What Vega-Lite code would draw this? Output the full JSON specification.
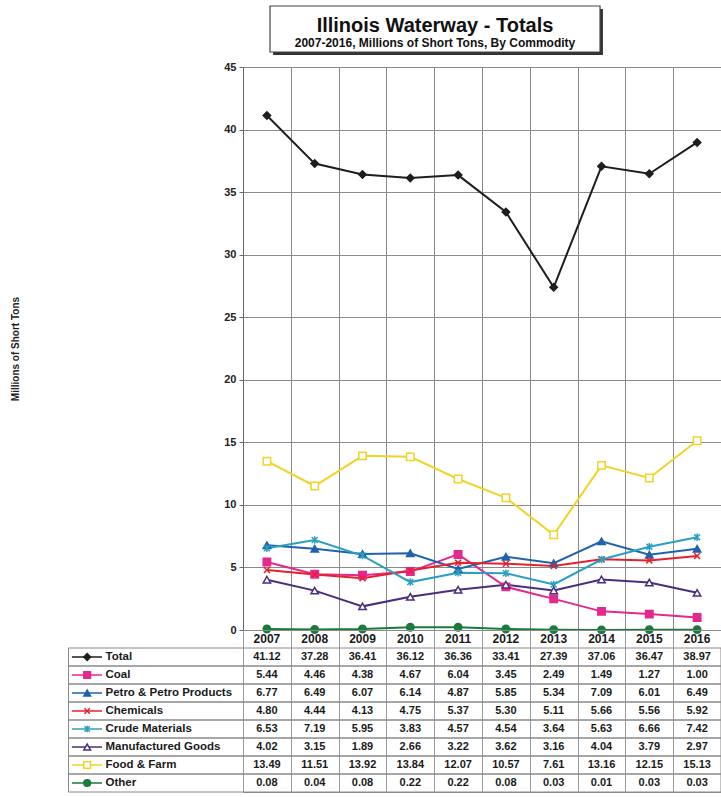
{
  "$schema": "https://vega.github.io/schema/vega-lite/v6.json",
  "autosize": {"type": "pad"},
  "padding": {"left": 9, "top": 4, "right": 0, "bottom": 0},
  "background": "white",
  "config": {"font": "Liberation Sans", "view": {"stroke": "#8a8a8a"}},
  "datasets": {
    "d": [
      {"series": "Total", "year": 2007, "value": 41.12}, {"series": "Total", "year": 2008, "value": 37.28}, {"series": "Total", "year": 2009, "value": 36.41}, {"series": "Total", "year": 2010, "value": 36.12}, {"series": "Total", "year": 2011, "value": 36.36}, {"series": "Total", "year": 2012, "value": 33.41}, {"series": "Total", "year": 2013, "value": 27.39}, {"series": "Total", "year": 2014, "value": 37.06}, {"series": "Total", "year": 2015, "value": 36.47}, {"series": "Total", "year": 2016, "value": 38.97},
      {"series": "Coal", "year": 2007, "value": 5.44}, {"series": "Coal", "year": 2008, "value": 4.46}, {"series": "Coal", "year": 2009, "value": 4.38}, {"series": "Coal", "year": 2010, "value": 4.67}, {"series": "Coal", "year": 2011, "value": 6.04}, {"series": "Coal", "year": 2012, "value": 3.45}, {"series": "Coal", "year": 2013, "value": 2.49}, {"series": "Coal", "year": 2014, "value": 1.49}, {"series": "Coal", "year": 2015, "value": 1.27}, {"series": "Coal", "year": 2016, "value": 1.00},
      {"series": "Petro & Petro Products", "year": 2007, "value": 6.77}, {"series": "Petro & Petro Products", "year": 2008, "value": 6.49}, {"series": "Petro & Petro Products", "year": 2009, "value": 6.07}, {"series": "Petro & Petro Products", "year": 2010, "value": 6.14}, {"series": "Petro & Petro Products", "year": 2011, "value": 4.87}, {"series": "Petro & Petro Products", "year": 2012, "value": 5.85}, {"series": "Petro & Petro Products", "year": 2013, "value": 5.34}, {"series": "Petro & Petro Products", "year": 2014, "value": 7.09}, {"series": "Petro & Petro Products", "year": 2015, "value": 6.01}, {"series": "Petro & Petro Products", "year": 2016, "value": 6.49},
      {"series": "Chemicals", "year": 2007, "value": 4.80}, {"series": "Chemicals", "year": 2008, "value": 4.44}, {"series": "Chemicals", "year": 2009, "value": 4.13}, {"series": "Chemicals", "year": 2010, "value": 4.75}, {"series": "Chemicals", "year": 2011, "value": 5.37}, {"series": "Chemicals", "year": 2012, "value": 5.30}, {"series": "Chemicals", "year": 2013, "value": 5.11}, {"series": "Chemicals", "year": 2014, "value": 5.66}, {"series": "Chemicals", "year": 2015, "value": 5.56}, {"series": "Chemicals", "year": 2016, "value": 5.92},
      {"series": "Crude Materials", "year": 2007, "value": 6.53}, {"series": "Crude Materials", "year": 2008, "value": 7.19}, {"series": "Crude Materials", "year": 2009, "value": 5.95}, {"series": "Crude Materials", "year": 2010, "value": 3.83}, {"series": "Crude Materials", "year": 2011, "value": 4.57}, {"series": "Crude Materials", "year": 2012, "value": 4.54}, {"series": "Crude Materials", "year": 2013, "value": 3.64}, {"series": "Crude Materials", "year": 2014, "value": 5.63}, {"series": "Crude Materials", "year": 2015, "value": 6.66}, {"series": "Crude Materials", "year": 2016, "value": 7.42},
      {"series": "Manufactured Goods", "year": 2007, "value": 4.02}, {"series": "Manufactured Goods", "year": 2008, "value": 3.15}, {"series": "Manufactured Goods", "year": 2009, "value": 1.89}, {"series": "Manufactured Goods", "year": 2010, "value": 2.66}, {"series": "Manufactured Goods", "year": 2011, "value": 3.22}, {"series": "Manufactured Goods", "year": 2012, "value": 3.62}, {"series": "Manufactured Goods", "year": 2013, "value": 3.16}, {"series": "Manufactured Goods", "year": 2014, "value": 4.04}, {"series": "Manufactured Goods", "year": 2015, "value": 3.79}, {"series": "Manufactured Goods", "year": 2016, "value": 2.97},
      {"series": "Food & Farm", "year": 2007, "value": 13.49}, {"series": "Food & Farm", "year": 2008, "value": 11.51}, {"series": "Food & Farm", "year": 2009, "value": 13.92}, {"series": "Food & Farm", "year": 2010, "value": 13.84}, {"series": "Food & Farm", "year": 2011, "value": 12.07}, {"series": "Food & Farm", "year": 2012, "value": 10.57}, {"series": "Food & Farm", "year": 2013, "value": 7.61}, {"series": "Food & Farm", "year": 2014, "value": 13.16}, {"series": "Food & Farm", "year": 2015, "value": 12.15}, {"series": "Food & Farm", "year": 2016, "value": 15.13},
      {"series": "Other", "year": 2007, "value": 0.08}, {"series": "Other", "year": 2008, "value": 0.04}, {"series": "Other", "year": 2009, "value": 0.08}, {"series": "Other", "year": 2010, "value": 0.22}, {"series": "Other", "year": 2011, "value": 0.22}, {"series": "Other", "year": 2012, "value": 0.08}, {"series": "Other", "year": 2013, "value": 0.03}, {"series": "Other", "year": 2014, "value": 0.01}, {"series": "Other", "year": 2015, "value": 0.03}, {"series": "Other", "year": 2016, "value": 0.03}
    ]
  },
  "vconcat": [
    {
      "width": 478,
      "height": 563,
      "title": {
        "text": "Illinois Waterway - Totals",
        "subtitle": "2007-2016, Millions of Short Tons, By Commodity",
        "frame": "group",
        "anchor": "middle",
        "dx": -47,
        "offset": -44,
        "fontSize": 20,
        "fontWeight": "bold",
        "color": "#111",
        "subtitleFontSize": 12,
        "subtitleFontWeight": "bold",
        "subtitleColor": "#111",
        "subtitlePadding": 2
      },
      "data": {"name": "d"},
      "layer": [
        {
          "mark": {"type": "line", "strokeWidth": 2},
          "encoding": {
            "x": {"field": "year", "type": "quantitative", "scale": {"domain": [2006.5, 2016.5], "nice": false, "zero": false},
              "axis": {"values": [2006.5, 2007.5, 2008.5, 2009.5, 2010.5, 2011.5, 2012.5, 2013.5, 2014.5, 2015.5, 2016.5], "grid": true, "gridColor": "#8a8a8a", "labels": false, "ticks": false, "domain": false, "title": null}},
            "y": {"field": "value", "type": "quantitative", "scale": {"domain": [0, 45], "nice": false, "zero": true},
              "axis": {"values": [0, 5, 10, 15, 20, 25, 30, 35, 40, 45], "grid": true, "gridColor": "#8a8a8a", "tickSize": 4, "tickColor": "#666", "domainColor": "#666", "labelFontSize": 11, "labelFontWeight": "bold", "labelColor": "#222", "labelPadding": 3,
                "title": "Millions of Short Tons", "titleFontSize": 10, "titleFontWeight": "bold", "titleColor": "#222", "titleX": -228, "titleY": 281.5, "titleAngle": -90, "titleAlign": "center", "titleBaseline": "middle"}},
            "color": {"field": "series", "type": "nominal", "legend": null,
              "scale": {"domain": ["Total", "Coal", "Petro & Petro Products", "Chemicals", "Crude Materials", "Manufactured Goods", "Food & Farm", "Other"],
                "range": ["#1e1e1e", "#e5288c", "#1f63ad", "#e4222e", "#2b9fc0", "#4a2d7d", "#f2d326", "#1b7a3c"]}}
          }
        },
        {
          "mark": {"type": "point", "filled": true, "size": 55, "strokeWidth": 1.5, "opacity": 1},
          "encoding": {
            "x": {"field": "year", "type": "quantitative"},
            "y": {"field": "value", "type": "quantitative"},
            "shape": {"field": "series", "type": "nominal", "legend": null,
              "scale": {"domain": ["Total", "Coal", "Petro & Petro Products", "Chemicals", "Crude Materials", "Manufactured Goods", "Food & Farm", "Other"],
                "range": ["diamond", "square", "triangle-up", "M-0.8,-0.8L0.8,0.8M0.8,-0.8L-0.8,0.8", "M-0.8,-0.8L0.8,0.8M0.8,-0.8L-0.8,0.8M0,-1L0,1", "triangle-up", "square", "circle"]}},
            "fill": {"field": "series", "type": "nominal", "legend": null,
              "scale": {"domain": ["Total", "Coal", "Petro & Petro Products", "Chemicals", "Crude Materials", "Manufactured Goods", "Food & Farm", "Other"],
                "range": ["#1e1e1e", "#e5288c", "#1f63ad", "#e4222e", "#2b9fc0", "#ffffff", "#ffffff", "#1b7a3c"]}},
            "stroke": {"field": "series", "type": "nominal", "legend": null,
              "scale": {"domain": ["Total", "Coal", "Petro & Petro Products", "Chemicals", "Crude Materials", "Manufactured Goods", "Food & Farm", "Other"],
                "range": ["#1e1e1e", "#e5288c", "#1f63ad", "#e4222e", "#2b9fc0", "#4a2d7d", "#f2d326", "#1b7a3c"]}}
          }
        },
        {
          "data": {"values": [{}]},
          "mark": {"type": "rect", "fill": "#333"},
          "encoding": {
            "x": {"datum": 2007.13}, "x2": {"datum": 2014.03},
            "y": {"datum": 49.64}, "y2": {"datum": 45.96}
          }
        },
        {
          "data": {"values": [{}]},
          "mark": {"type": "rect", "fill": "white", "stroke": "#444", "strokeWidth": 1.2},
          "encoding": {
            "x": {"datum": 2007.065}, "x2": {"datum": 2013.969},
            "y": {"datum": 49.876}, "y2": {"datum": 46.199}
          }
        }
      ]
    },
    {
      "width": 478,
      "height": 162,
      "data": {"name": "d"},
      "encoding": {
        "y": {"field": "series", "type": "nominal",
          "scale": {"type": "band", "domain": [" ", "Total", "Coal", "Petro & Petro Products", "Chemicals", "Crude Materials", "Manufactured Goods", "Food & Farm", "Other"], "paddingInner": 0, "paddingOuter": 0},
          "axis": {"title": null, "domain": false, "ticks": false, "tickSize": 0, "grid": false, "labelAlign": "left", "labelPadding": 138, "labelFontSize": 11.5, "labelFontWeight": "bold", "labelColor": "#1a1a1a", "labelLimit": 200}}
      },
      "layer": [
        {
          "transform": [{"filter": "datum.year == 2007"}],
          "mark": {"type": "rect", "fill": "transparent", "stroke": "#8a8a8a", "strokeWidth": 1},
          "encoding": {
            "x": {"datum": 2002.85, "type": "quantitative", "scale": {"domain": [2006.5, 2016.5], "nice": false, "zero": false},
              "axis": {"values": [2006.5, 2007.5, 2008.5, 2009.5, 2010.5, 2011.5, 2012.5, 2013.5, 2014.5, 2015.5, 2016.5], "grid": true, "gridColor": "#9a9a9a", "labels": false, "ticks": false, "domain": false, "title": null}},
            "x2": {"datum": 2016.5}
          }
        },
        {
          "transform": [{"filter": "datum.year == 2007"}],
          "mark": {"type": "rule", "strokeWidth": 1.5},
          "encoding": {
            "x": {"datum": 2002.92, "type": "quantitative"},
            "x2": {"datum": 2003.55},
            "color": {"field": "series", "type": "nominal", "legend": null,
              "scale": {"domain": ["Total", "Coal", "Petro & Petro Products", "Chemicals", "Crude Materials", "Manufactured Goods", "Food & Farm", "Other"],
                "range": ["#1e1e1e", "#e5288c", "#1f63ad", "#e4222e", "#2b9fc0", "#4a2d7d", "#f2d326", "#1b7a3c"]}}
          }
        },
        {
          "transform": [{"filter": "datum.year == 2007"}],
          "mark": {"type": "point", "filled": true, "size": 45, "strokeWidth": 1.5, "opacity": 1},
          "encoding": {
            "x": {"datum": 2003.24, "type": "quantitative"},
            "shape": {"field": "series", "type": "nominal", "legend": null,
              "scale": {"domain": ["Total", "Coal", "Petro & Petro Products", "Chemicals", "Crude Materials", "Manufactured Goods", "Food & Farm", "Other"],
                "range": ["diamond", "square", "triangle-up", "M-0.8,-0.8L0.8,0.8M0.8,-0.8L-0.8,0.8", "M-0.8,-0.8L0.8,0.8M0.8,-0.8L-0.8,0.8M0,-1L0,1", "triangle-up", "square", "circle"]}},
            "fill": {"field": "series", "type": "nominal", "legend": null,
              "scale": {"domain": ["Total", "Coal", "Petro & Petro Products", "Chemicals", "Crude Materials", "Manufactured Goods", "Food & Farm", "Other"],
                "range": ["#1e1e1e", "#e5288c", "#1f63ad", "#e4222e", "#2b9fc0", "#ffffff", "#ffffff", "#1b7a3c"]}},
            "stroke": {"field": "series", "type": "nominal", "legend": null,
              "scale": {"domain": ["Total", "Coal", "Petro & Petro Products", "Chemicals", "Crude Materials", "Manufactured Goods", "Food & Farm", "Other"],
                "range": ["#1e1e1e", "#e5288c", "#1f63ad", "#e4222e", "#2b9fc0", "#4a2d7d", "#f2d326", "#1b7a3c"]}}
          }
        },
        {
          "mark": {"type": "text", "fontSize": 11, "fontWeight": "bold", "color": "#1a1a1a", "align": "center", "baseline": "middle"},
          "encoding": {
            "x": {"field": "year", "type": "quantitative"},
            "text": {"field": "value", "type": "quantitative", "format": ".2f"}
          }
        },
        {
          "transform": [{"filter": "datum.series == 'Total'"}],
          "mark": {"type": "text", "fontSize": 12, "fontWeight": "bold", "color": "#1a1a1a", "align": "center", "baseline": "middle"},
          "encoding": {
            "x": {"field": "year", "type": "quantitative"},
            "y": {"datum": " ", "type": "nominal"},
            "text": {"field": "year", "type": "quantitative", "format": "d"}
          }
        }
      ]
    }
  ],
  "spacing": 0,
  "bounds": "flush",
  "resolve": {"scale": {"x": "independent", "y": "independent"}}
}
